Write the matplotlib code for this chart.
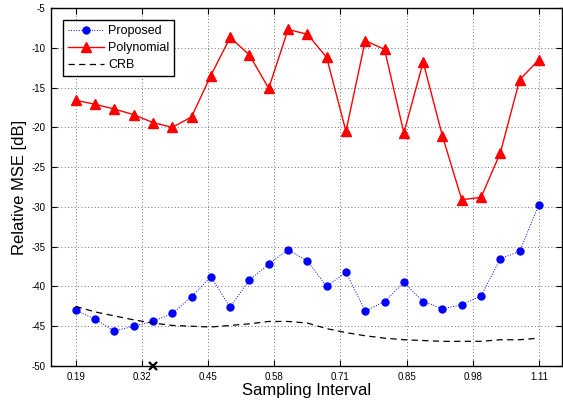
import matplotlib
matplotlib.use("Agg")
import matplotlib.pyplot as plt

plt.rcParams['font.family'] = ['Liberation Sans', 'DejaVu Sans']
plt.rcParams['axes.unicode_minus'] = False

x = [0.19, 0.2283, 0.2667, 0.305, 0.3433, 0.3817, 0.42, 0.4583, 0.4967, 0.535,
     0.5733, 0.6117, 0.65, 0.6883, 0.7267, 0.765, 0.8033, 0.8417, 0.88, 0.9183,
     0.9567, 0.995, 1.0333, 1.0717, 1.11]

proposed = [-43.0, -44.1, -45.6, -45.0, -44.4, -43.4, -41.3, -38.8, -42.6, -39.2,
            -37.2, -35.4, -36.8, -40.0, -38.2, -43.1, -41.9, -39.5, -41.9, -42.8,
            -42.3, -41.2, -36.5, -35.6, -29.7]

polynomial = [-16.6, -17.1, -17.7, -18.4, -19.4, -20.0, -18.7, -13.5, -8.7, -10.9,
              -15.1, -7.7, -8.3, -11.2, -20.5, -9.1, -10.2, -20.7, -11.8, -21.1,
              -29.1, -28.8, -23.2, -14.0, -11.5]

crb = [-42.5, -43.2, -43.7, -44.2, -44.6, -44.9, -45.0, -45.1, -44.9, -44.7,
       -44.4, -44.4, -44.6, -45.3, -45.8, -46.2, -46.5, -46.7, -46.8, -46.9,
       -46.9, -46.9, -46.7, -46.7, -46.5]

xtick_pos = [0.19, 0.3214, 0.4529, 0.5843, 0.7157, 0.8471, 0.9786, 1.11]
xtick_labels = ['0.19', '0.32', '0.45', '0.58', '0.71', '0.85', '0.98', '1.11']
yticks = [-50, -45, -40, -35, -30, -25, -20, -15, -10, -5]

marker_x = x[4]
marker_y = -50

fig = plt.figure(figsize=(5.63, 4.0), dpi=100)
ax = fig.add_axes([0.0906, 0.085, 0.907, 0.895])

ax.plot(x, proposed, color='blue', linestyle=':', linewidth=0.7,
        marker='o', markersize=5, markerfacecolor='blue', markeredgecolor='blue',
        label='Proposed')
ax.plot(x, polynomial, color='red', linestyle='-', linewidth=1.0,
        marker='^', markersize=6.5, markerfacecolor='red', markeredgecolor='red',
        label='Polynomial')
ax.plot(x, crb, color='black', linestyle=(0, (5, 3.5)), linewidth=0.9,
        label='CRB')
ax.plot([marker_x], [marker_y], linestyle='none', marker='x', color='black',
        markersize=6, markeredgewidth=1.6, clip_on=False, zorder=5)

ax.set_xlim(0.141, 1.155)
ax.set_ylim(-50, -5)
ax.set_xticks(xtick_pos)
ax.set_xticklabels(xtick_labels)
ax.set_yticks(yticks)

ax.grid(True, linestyle=(0, (1, 3)), linewidth=0.6, color='#404040')
ax.tick_params(direction='in', top=True, right=True, labelsize=7, length=4,
               width=0.8, pad=4)
for s in ax.spines.values():
    s.set_linewidth(1.0)

ax.set_xlabel('Sampling Interval', fontsize=12, labelpad=1)
ax.set_ylabel('Relative MSE [dB]', fontsize=12, labelpad=3)

leg = ax.legend(loc='upper left', fontsize=9, frameon=True, fancybox=False,
                edgecolor='black', framealpha=1, borderpad=0.4,
                labelspacing=0.4, handlelength=2.9, handletextpad=0.3,
                borderaxespad=0.95)
leg.get_frame().set_linewidth(1.0)

fig.savefig('out.png', dpi=100)
